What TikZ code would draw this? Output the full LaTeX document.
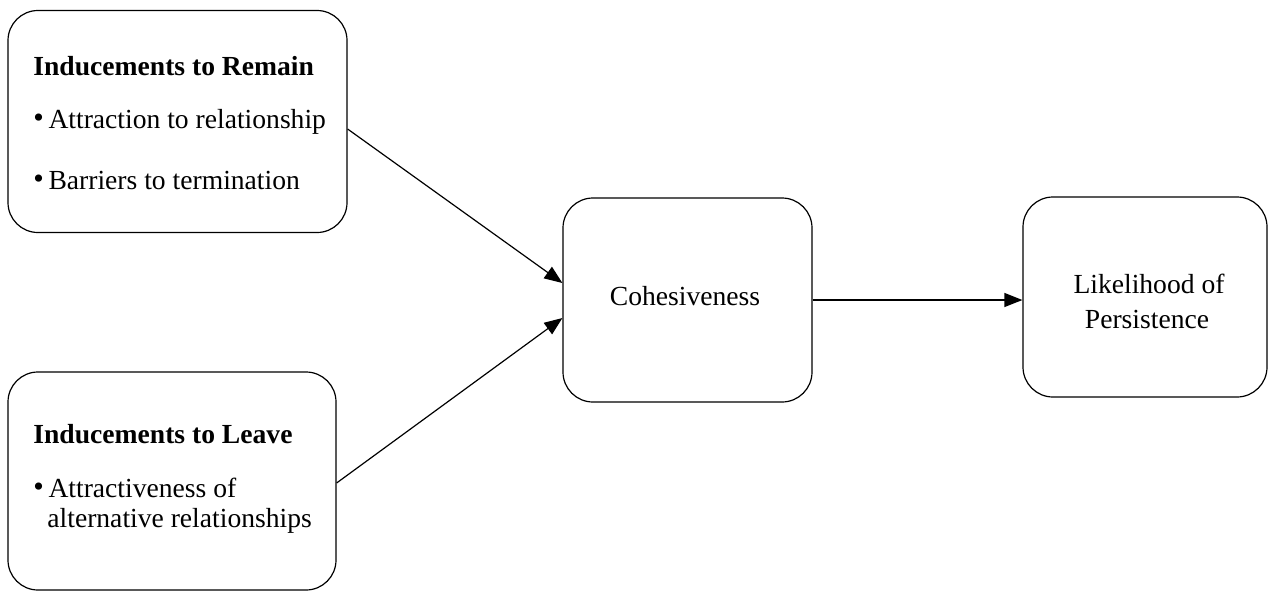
\documentclass[tikz,border=0pt]{standalone}
\usepackage{fontspec}
\setmainfont{Liberation Serif}
\usetikzlibrary{arrows.meta}

\newcommand{\bul}{\raisebox{0.4pt}{\fontsize{15}{15}\selectfont\textbullet}\,}

\begin{document}
\begin{tikzpicture}[
  x=0.5pt,
  y=-0.5pt,
  font=\fontsize{13.8}{16}\selectfont,
  box/.style={draw, line width=0.6pt, rounded corners=15pt},
  txt/.style={anchor=base west, inner sep=0pt},
  ctxt/.style={anchor=base, inner sep=0pt},
  head/.style={txt, font=\fontsize{13.8}{16}\selectfont\bfseries},
  link/.style={-{Triangle[length=9pt,width=7pt]}, line width=0.6pt}
]

% White background
\fill[white] (0,0) rectangle (1269,595);
\useasboundingbox (0,0) rectangle (1269,595);

% Boxes
\node[box, minimum width=169.5pt, minimum height=111pt] (remain) at (177.5,121.5) {};
\node[box, minimum width=164pt, minimum height=109pt] (leave) at (172,481) {};
\node[box, minimum width=124.5pt, minimum height=102pt] (coh) at (687.5,300) {};
\node[box, minimum width=122pt, minimum height=100pt] (lik) at (1145,297) {};

% Labels
\node[head] (remainhead) at (33,75) {Inducements to Remain};
\node[txt] (attr) at (33,128) {\bul Attraction to relationship};
\node[txt] (barr) at (33,189) {\bul Barriers to termination};

\node[head] (leavehead) at (33,443) {Inducements to Leave};
\node[txt] (alta) at (33,497) {\bul Attractiveness of};
\node[txt] (altb) at (47,527) {alternative relationships};

\node[ctxt] (cohtext) at (685,305) {Cohesiveness};
\node[ctxt] (lika) at (1149,293) {Likelihood of};
\node[ctxt] (likb) at (1147,328) {Persistence};

% Arrows
\draw[link] ([yshift=-3.75pt]remain.east) -- ([yshift=8.5pt]coh.west);
\draw[link] ([yshift=-1pt]leave.east) -- ([yshift=-9pt]coh.west);
\draw[link] (coh.east) -- (lik.west |- coh.east);

\end{tikzpicture}
\end{document}
